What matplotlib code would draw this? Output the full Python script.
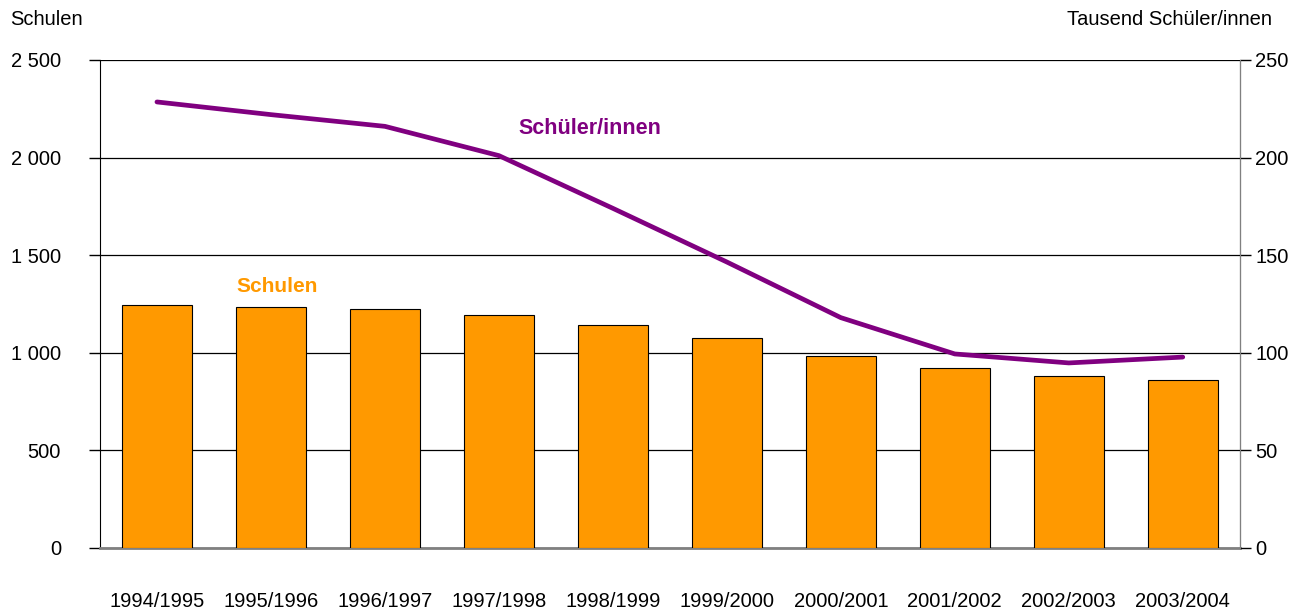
import matplotlib.pyplot as plt
import numpy as np

years = ["1994/1995", "1995/1996", "1996/1997", "1997/1998", "1998/1999",
         "1999/2000", "2000/2001", "2001/2002", "2002/2003", "2003/2004"]
schulen = [1245, 1235, 1224, 1194, 1142, 1076, 984, 922, 881, 861]
schueler = [228.5, 222, 216, 201, 174, 146.5, 118, 99.4, 94.8, 97.8]

plt.rcParams['font.family'] = ['Liberation Sans', 'DejaVu Sans']


def fmt(v):
    return f"{int(v):,}".replace(",", " ")


fig = plt.figure(figsize=(13.05, 6.12), dpi=100)
ax = fig.add_axes([0.0766, 0.1046, 0.8734, 0.7974])
x = np.arange(len(years))

ax.bar(x, schulen, width=0.61, color='#FF9900', edgecolor='black', linewidth=0.8, zorder=3)
ax.set_xlim(-0.5, len(years) - 0.5)
ax.set_ylim(0, 2500)
yt = np.arange(0, 2501, 500)
ax.set_yticks(yt)
ax.set_yticklabels([fmt(v) for v in yt], fontsize=14.5)
ax.yaxis.grid(True, color='black', linewidth=0.9, zorder=0)
ax.set_axisbelow(True)
ax.set_xticks(x)
ax.set_xticklabels(years, fontsize=14.5)
ax.tick_params(axis='x', length=0, pad=32)
ax.tick_params(axis='y', length=8, width=1, direction='out', pad=20)
ax.spines['top'].set_visible(False)
ax.spines['left'].set_color('black')
ax.spines['bottom'].set_color('#808080')
ax.spines['bottom'].set_linewidth(2)

ax2 = ax.twinx()
ax2.plot(x, schueler, color='#800080', linewidth=3.4, solid_capstyle='round', zorder=5)
ax2.set_ylim(0, 250)
ax2.set_yticks(np.arange(0, 251, 50))
ax2.set_yticklabels([str(v) for v in range(0, 251, 50)], fontsize=14.5)
ax2.tick_params(axis='y', length=8, width=1, direction='out', pad=3)
ax2.spines['top'].set_visible(False)
ax2.spines['right'].set_color('#808080')
ax2.spines['left'].set_visible(False)
ax2.spines['bottom'].set_visible(False)

fig.text(0.008, 0.952, "Schulen", fontsize=14.5, ha='left', va='bottom')
fig.text(0.975, 0.952, "Tausend Schüler/innen", fontsize=14.5, ha='right', va='bottom')
ax.text(1.05, 1340, "Schulen", color='#FF9900', fontsize=15, fontweight='bold', ha='center', va='center')
ax2.text(3.8, 215, "Schüler/innen", color='#800080', fontsize=15.5, fontweight='bold', ha='center', va='center')

fig.savefig("out.png", dpi=100)
